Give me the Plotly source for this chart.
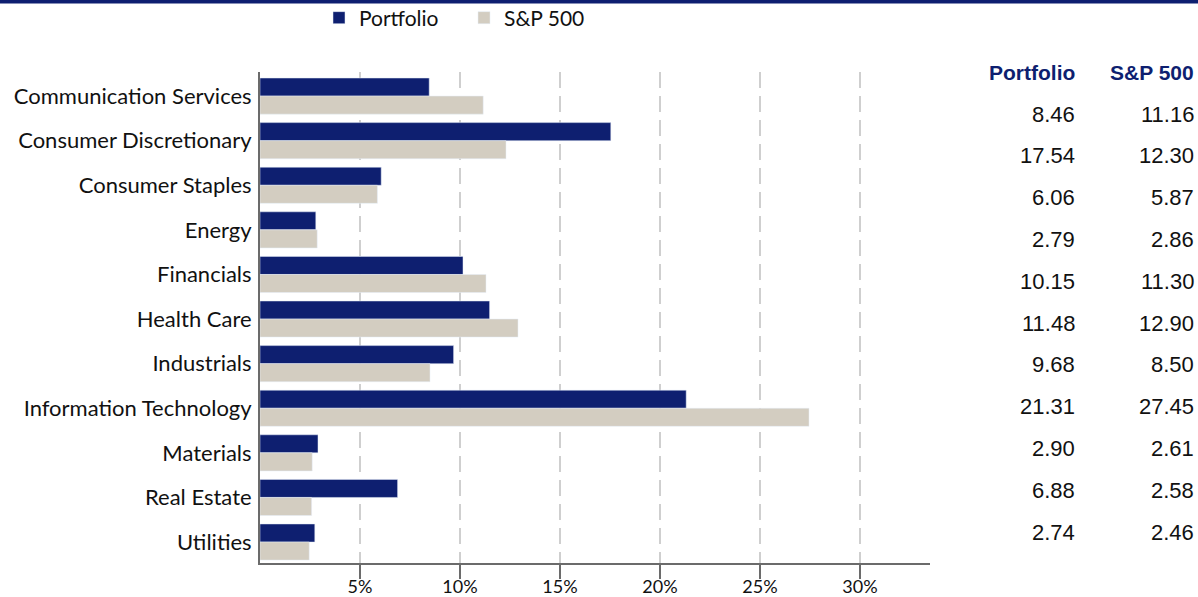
import plotly.graph_objects as go

sectors = ["Communication Services", "Consumer Discretionary", "Consumer Staples", "Energy",
           "Financials", "Health Care", "Industrials", "Information Technology",
           "Materials", "Real Estate", "Utilities"]
portfolio = [8.46, 17.54, 6.06, 2.79, 10.15, 11.48, 9.68, 21.31, 2.90, 6.88, 2.74]
sp500 = [11.16, 12.30, 5.87, 2.86, 11.30, 12.90, 8.50, 27.45, 2.61, 2.58, 2.46]
tick_vals = [5, 10, 15, 20, 25, 30]
tick_text = ['5%', '10%', '15%', '20%', '25%', '30%']

colors = {
    'navy': '#0E1F70',
    'sand': '#D3CDC1',
    'axis': '#6B6B6B',
    'grid': '#CFCFCF',
}

# plot area in pixels: x 260..930, y 72..563
def px_x(x):
    return (x - 260) / 670.0

def px_y(y):
    return (563 - y) / 491.0

fig = go.Figure()
fig.add_trace(go.Bar(y=sectors, x=portfolio, orientation='h', name='Portfolio',
                     marker_color=colors['navy']))
fig.add_trace(go.Bar(y=sectors, x=sp500, orientation='h', name='S&P 500',
                     marker_color=colors['sand']))

# table on the right
col_x = [px_x(1077), px_x(1196)]
for name, pos in zip(['Portfolio', 'S&P 500'], col_x):
    fig.add_annotation(x=pos, xref='paper', y=px_y(72), yref='paper', text='<b>%s</b>' % name,
                       showarrow=False, xanchor='right', yanchor='middle',
                       font=dict(family='Liberation Sans, Arial', size=21, color=colors['navy']))
for i, (p, b) in enumerate(zip(portfolio, sp500)):
    for v, pos in zip([p, b], col_x):
        fig.add_annotation(x=pos, xref='paper', y=px_y(114 + 41.8 * i), yref='paper',
                           text='%.2f' % v, showarrow=False, xanchor='right', yanchor='middle',
                           font=dict(family='Liberation Sans, Arial', size=22, color='#111111'))

# top band
fig.add_shape(type='rect', xref='paper', yref='paper', x0=-0.5, x1=1.5,
              y0=px_y(3.5), y1=px_y(-2), fillcolor=colors['navy'], line_width=0)

fig.update_layout(
    width=1198, height=597,
    margin=dict(l=260, r=268, t=72, b=34, autoexpand=False),
    paper_bgcolor='white', plot_bgcolor='white',
    barmode='group', bargap=0.19, bargroupgap=0,
    font=dict(family='Lato, Open Sans', size=19, color='#111111'),
    legend=dict(orientation='h', x=px_x(319), y=px_y(18), xanchor='left', yanchor='middle',
                bgcolor='rgba(0,0,0,0)', font=dict(size=21), itemwidth=30,
                entrywidth=100, entrywidthmode='pixels'),
    showlegend=True,
)
fig.update_xaxes(range=[0, 33.5], tickvals=tick_vals, ticktext=tick_text,
                 showgrid=True, gridcolor=colors['grid'], griddash='16px,8px', gridwidth=2,
                 showline=True, linecolor=colors['axis'], linewidth=2,
                 ticks='outside', ticklen=14, tickwidth=2, tickcolor=colors['axis'],
                 tickfont=dict(size=18), ticklabelstandoff=-8, zeroline=False)
fig.update_yaxes(range=[10.47, -0.54], showline=True, linecolor=colors['axis'], linewidth=2,
                 showgrid=False, ticks='', tickfont=dict(size=22), ticklabelstandoff=2)

fig.write_html("out.html", config={'displayModeBar': False},
               post_script="document.body.style.margin='0';")
